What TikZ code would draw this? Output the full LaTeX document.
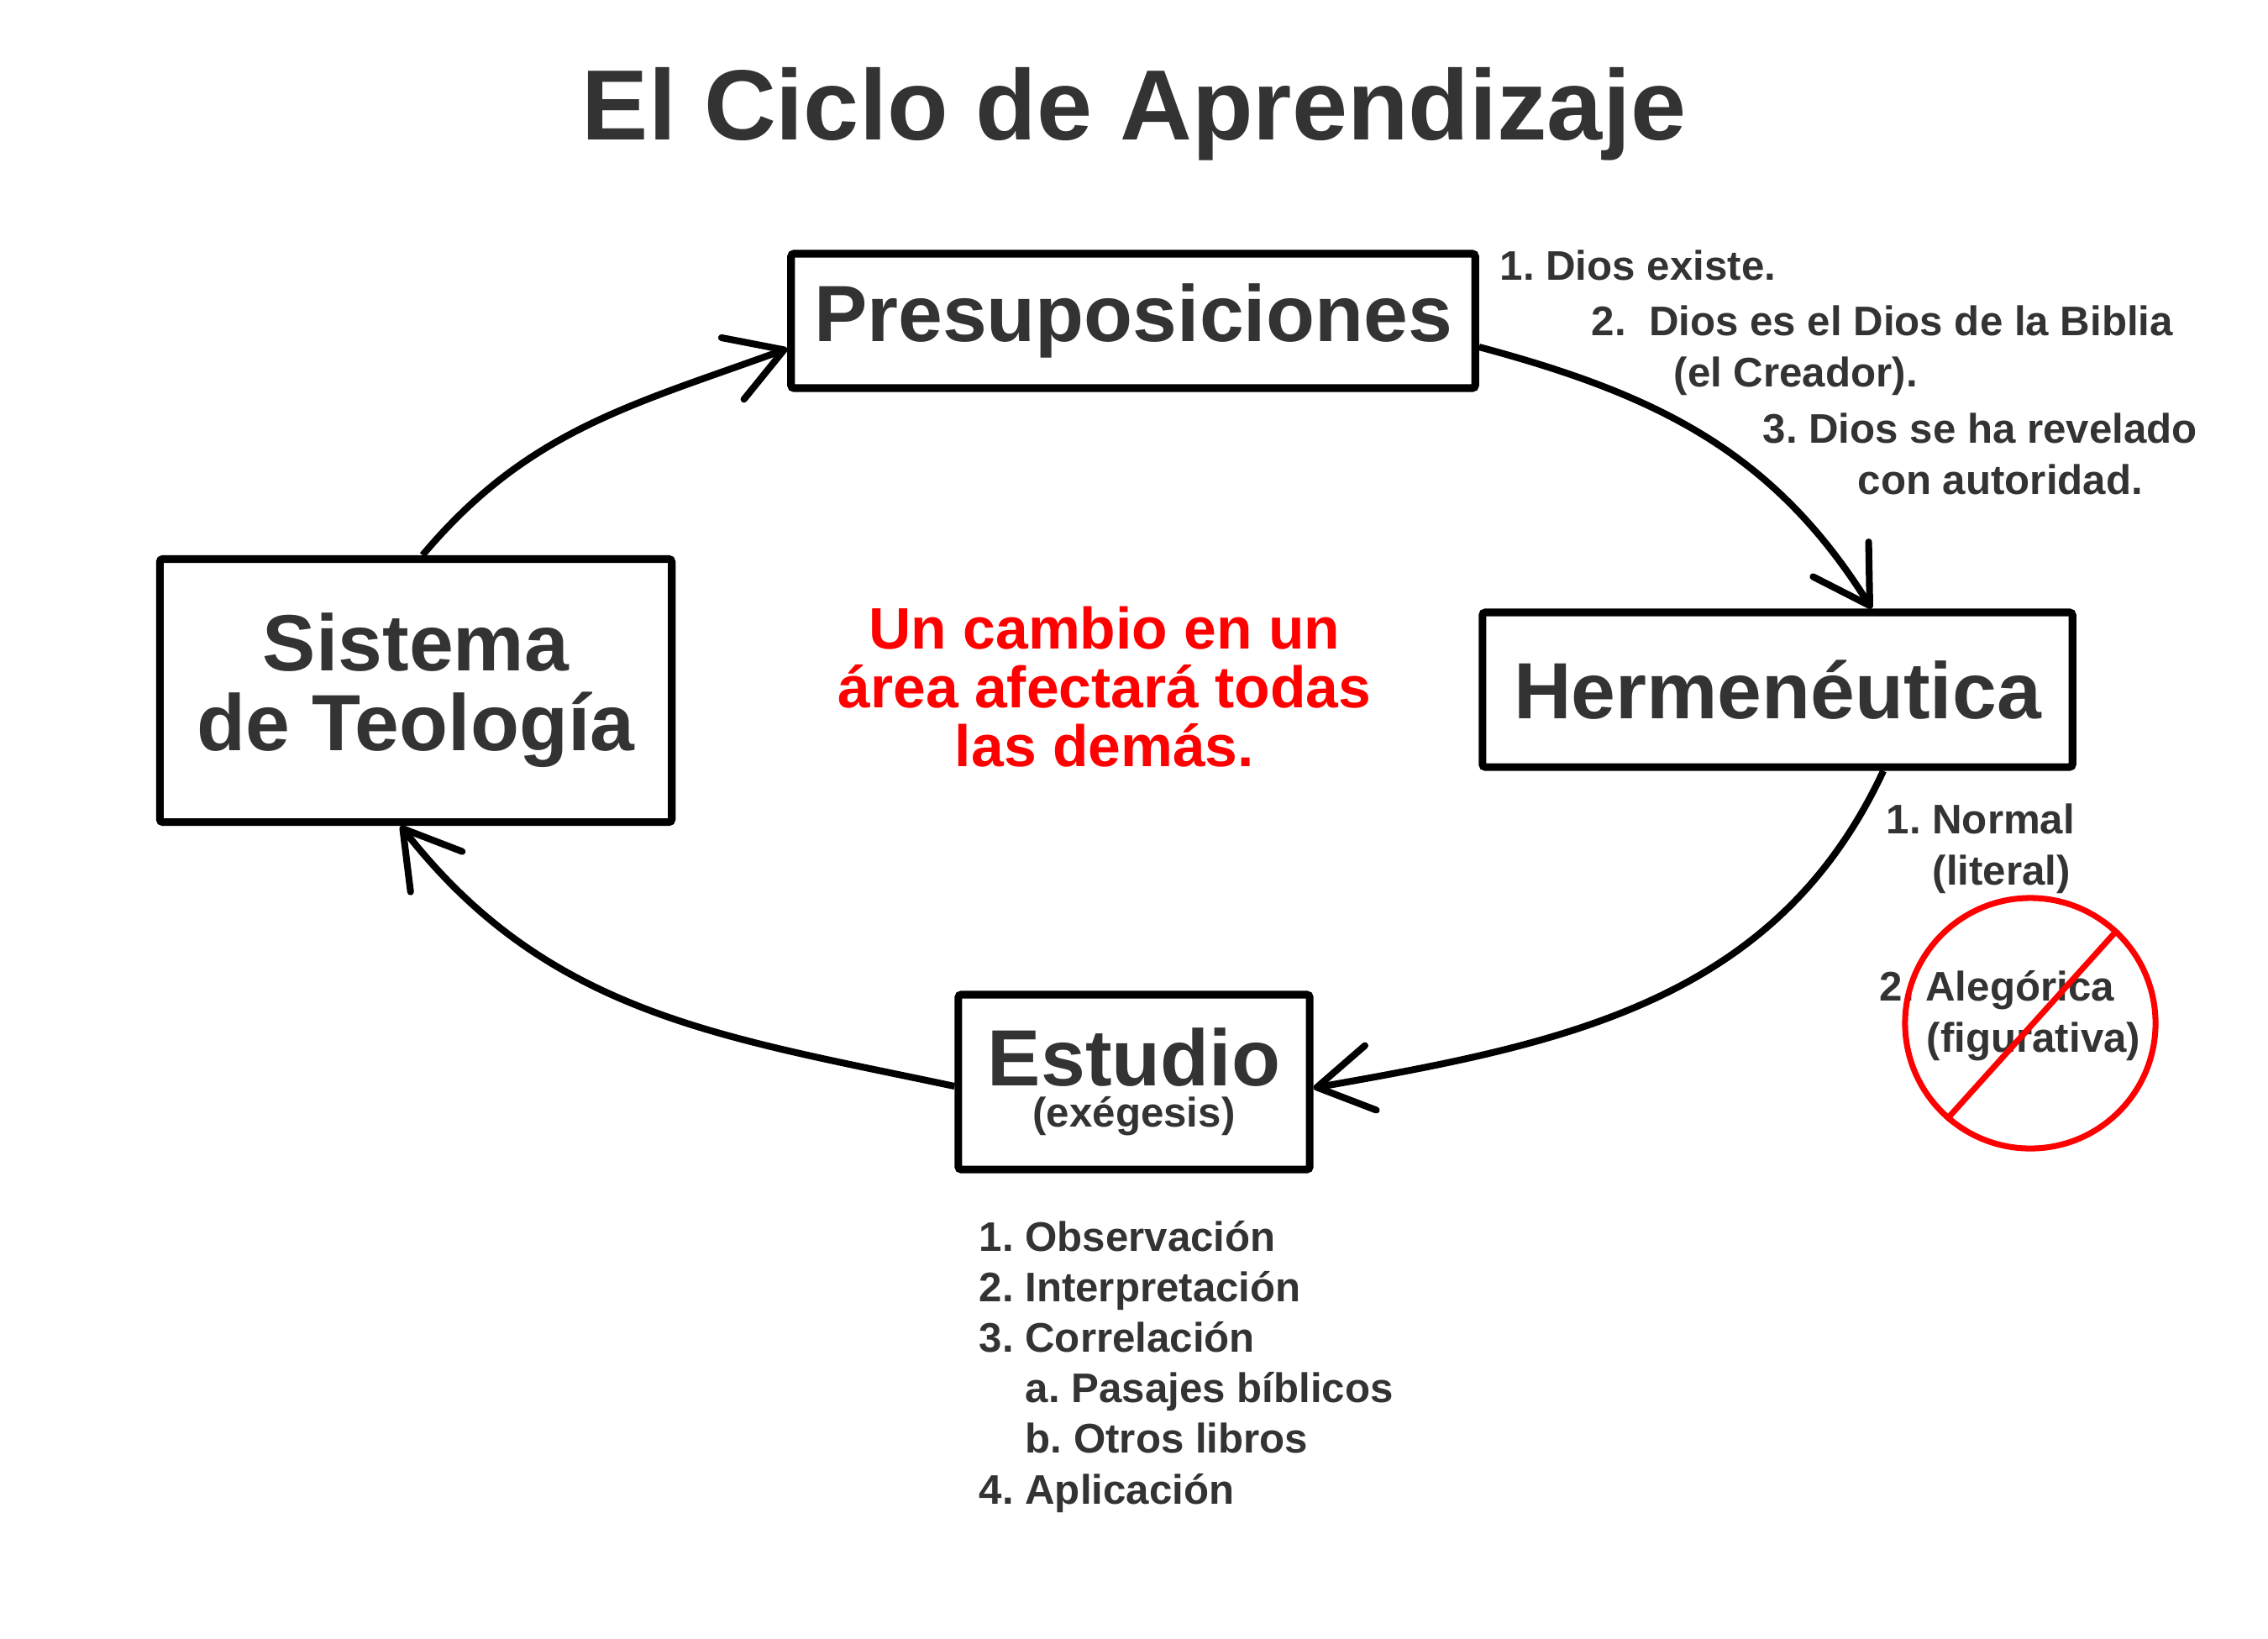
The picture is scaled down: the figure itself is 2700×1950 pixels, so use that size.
\documentclass[tikz,border=0pt]{standalone}
\usepackage{fontspec}
\setmainfont{Liberation Sans}
\usepackage{xcolor}
\usepackage{tikz}
\usetikzlibrary{
	arrows.meta
	}
\frenchspacing
\definecolor{gris-texte}{HTML}{333333}
\definecolor{rouge-vif}{HTML}{FF0000}
\tikzstyle{caja-std}=[draw=black,line width=2.6pt,rounded corners=1pt,inner sep=0pt,text=gris-texte,font=\bfseries\fontsize{27}{27}\selectfont,align=center]
\tikzstyle{nota-std}=[inner sep=0pt,anchor=base west,align=left,text=gris-texte,font=\bfseries\fontsize{14}{17.1}\selectfont]
\tikzstyle{fleche-std}=[line width=2.3pt,-{Straight Barb[length=6.5mm,width=7.8mm,line cap=round,line join=round]}]

\begin{document}
\begin{tikzpicture}[x=0.01cm,y=0.01cm]
\useasboundingbox (0,0) rectangle (2700,-1950);

\node[anchor=base,inner sep=0pt,text=gris-texte,font=\bfseries\fontsize{33.8}{40}\selectfont] (titre) at (1350,-166) {El Ciclo de Aprendizaje};

\node[caja-std,minimum width=8.14cm,minimum height=1.60cm] (presup) at (1349,-382) {Presuposiciones};
\node[caja-std,minimum width=7.02cm,minimum height=1.84cm] (herme) at (2116,-821) {Hermenéutica};
\node[caja-std,minimum width=4.18cm,minimum height=2.08cm] (estudio) at (1350,-1288) {Estudio\\[-13pt]{\fontsize{14}{14}\selectfont (exégesis)}};
\node[caja-std,minimum width=6.09cm,minimum height=3.13cm] (sistema) at (495,-822) {Sistema\\de Teología};

% base = derniere ligne
\node[anchor=base,align=center,inner sep=0pt,text=rouge-vif,font=\bfseries\fontsize{19.8}{19.8}\selectfont] (cambio) at (1315,-912) {Un cambio en un\\área afectará todas\\las demás.};

\draw[fleche-std] ([xshift=0.08cm]sistema.north) to[out=50,in=200] ([yshift=-0.33cm]presup.west);
\draw[fleche-std] ([yshift=-0.31cm]presup.east) to[out=-15,in=122] ([xshift=1.12cm]herme.north);
\draw[fleche-std] ([xshift=1.26cm]herme.south) to[out=245,in=10] ([yshift=-0.07cm]estudio.east);
\draw[fleche-std] ([yshift=-0.05cm]estudio.west) to[out=168,in=-52] ([xshift=-0.18cm]sistema.south);

\node[nota-std] (dios1) at (1785,-333) {1. Dios existe.};
\node[nota-std] (dios2) at (1894,-460) {2.\ \ Dios es el Dios de la Biblia\\\hspace*{0.98cm}(el Creador).};
\node[nota-std] (dios3) at (2098,-588) {3. Dios se ha revelado\\\hspace*{1.13cm}con autoridad.};

\node[nota-std] (normal) at (2245,-1053) {1. Normal\\\hspace*{0.55cm}(literal)};
\node[nota-std] (alegor) at (2237,-1252) {2. Alegórica\\\hspace*{0.56cm}(figurativa)};

\node[nota-std] (pasos) at (1165,-1790) {1. Observación\\2. Interpretación\\3. Correlación\\\hspace*{0.55cm}a. Pasajes bíblicos\\\hspace*{0.55cm}b. Otros libros\\4. Aplicación};

\node[circle,draw=rouge-vif,line width=2pt,minimum size=2.98cm,inner sep=0pt] (interdit) at (2417,-1218) {};
\draw[rouge-vif,line width=2pt] (interdit.47) -- (interdit.229);
\end{tikzpicture}
\end{document}
